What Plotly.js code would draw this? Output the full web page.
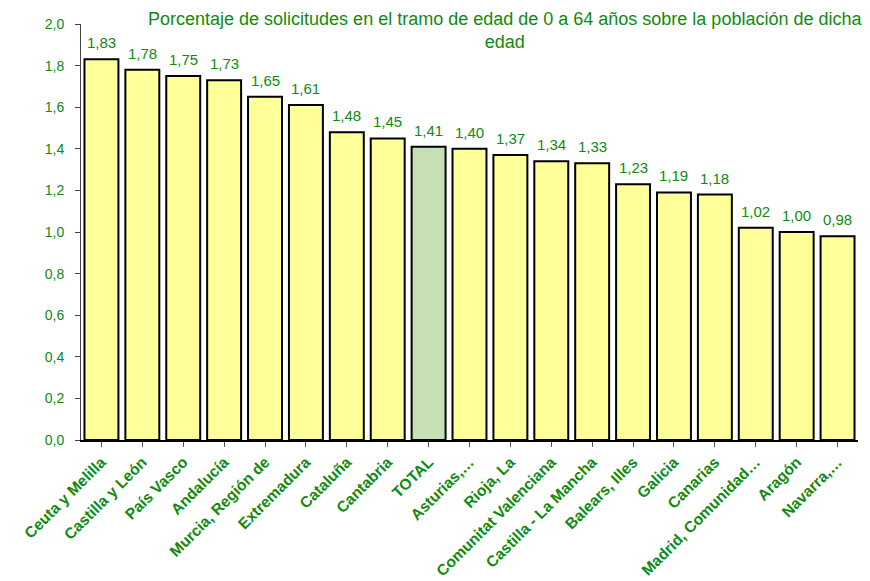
<!DOCTYPE html>
<html>
<head>
<meta charset="utf-8">
<script src="https://cdn.plot.ly/plotly-3.0.1.min.js"></script>
<style>html,body{margin:0;padding:0;background:#fff;}#chart{width:870px;height:581px;}</style>
</head>
<body>
<div id="chart"></div>
<script>
const categories = ["Ceuta y Melilla","Castilla y León","País Vasco","Andalucía","Murcia, Región de","Extremadura","Cataluña","Cantabria","TOTAL","Asturias,…","Rioja, La","Comunitat Valenciana","Castilla - La Mancha","Balears, Illes","Galicia","Canarias","Madrid, Comunidad…","Aragón","Navarra,…"];
const values = [1.83,1.78,1.75,1.73,1.65,1.61,1.48,1.45,1.41,1.40,1.37,1.34,1.33,1.23,1.19,1.18,1.02,1.00,0.98];
const titleText = "Porcentaje de solicitudes en el tramo de edad de 0 a 64 años sobre la población de dicha<br>edad";

const green = "#108a10";
const colors = categories.map(c => c === "TOTAL" ? "#C6E0B4" : "#FFFF99");

const labelAnnotations = categories.map((c, i) => ({
  x: c, y: values[i], xref: "x", yref: "y",
  text: values[i].toFixed(2).replace(".", ","),
  showarrow: false, yanchor: "bottom", yshift: 6,
  font: {family: "Liberation Sans, Arial, sans-serif", size: 15, color: green}
}));

Plotly.newPlot("chart", [{
  type: "bar",
  x: categories,
  y: values,
  marker: {color: colors, line: {color: "#000", width: 2}},
  hoverinfo: "none"
}], {
  width: 870, height: 581,
  margin: {l: 81, r: 12, t: 24, b: 141},
  separators: ",.",
  paper_bgcolor: "#fff", plot_bgcolor: "#fff",
  bargap: 0.17,
  showlegend: false,
  annotations: [{
    xref: "paper", yref: "paper", x: 0.5457, y: 1.04, xanchor: "center", yanchor: "top",
    text: titleText, showarrow: false, align: "center",
    font: {family: "Liberation Sans Narrow, Arial Narrow, sans-serif", size: 18, color: green}
  }].concat(labelAnnotations),
  xaxis: {
    type: "category",
    tickangle: -45,
    tickfont: {family: "Liberation Sans, Arial, sans-serif", size: 15.5, color: green, weight: "bold"},
    showline: true, linecolor: "#000", linewidth: 2,
    ticks: "outside", ticklen: 5, tickcolor: "#555", tickwidth: 1,
    showgrid: false, fixedrange: true
  },
  yaxis: {
    range: [0, 2.0],
    dtick: 0.2, tick0: 0,
    tickformat: ".1f",
    tickfont: {family: "Liberation Sans, Arial, sans-serif", size: 14, color: green},
    ticklabelstandoff: 8,
    showline: true, linecolor: "#444", linewidth: 1,
    ticks: "outside", ticklen: 5, tickcolor: "#444",
    showgrid: false, zeroline: false, fixedrange: true
  }
}, {displayModeBar: false, staticPlot: true});
</script>
</body>
</html>
